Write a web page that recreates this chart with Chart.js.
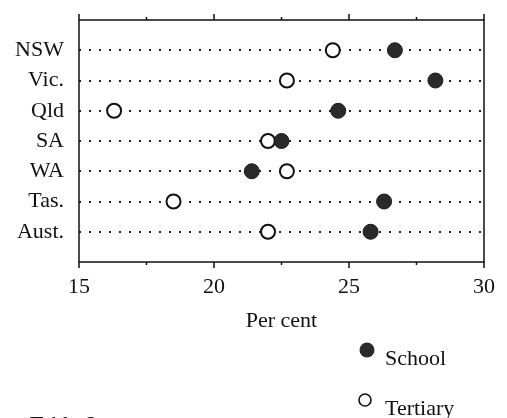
<!DOCTYPE html>
<html>
<head>
<meta charset="utf-8">
<script src="https://cdn.jsdelivr.net/npm/chart.js@4"></script>
<style>
  html, body { margin: 0; padding: 0; background: #fff; }
  #wrap { width: 507px; height: 418px; position: relative; }
</style>
</head>
<body>
<div id="wrap"><canvas id="chart"></canvas></div>
<script>
const states = ["NSW", "Vic.", "Qld", "SA", "WA", "Tas.", "Aust."];
const school = [26.7, 28.2, 24.6, 22.5, 21.4, 26.3, 25.8];
const tertiary = [24.4, 22.7, 16.3, 22.0, 22.7, 18.5, 22.0];
const xTicks = [15, 20, 25, 30];
const xMinorTicks = [17.5, 22.5, 27.5];

const ink = "#111";
const serif = "'Liberation Serif', 'DejaVu Serif', serif";

const ctx = document.getElementById("chart");

// box around the plot, ticks top and bottom, legend and source note
const framePlugin = {
  id: "frame",
  afterDraw(chart) {
    const c = chart.ctx;
    const area = chart.chartArea;
    const x = chart.scales.x;
    c.save();
    c.strokeStyle = ink;
    c.lineWidth = 1.5;
    c.strokeRect(area.left, area.top, area.right - area.left, area.bottom - area.top);
    c.beginPath();
    xTicks.forEach((v) => {
      const px = x.getPixelForValue(v);
      c.moveTo(px, area.top); c.lineTo(px, area.top - 6);
      c.moveTo(px, area.bottom); c.lineTo(px, area.bottom + 6);
    });
    xMinorTicks.forEach((v) => {
      const px = x.getPixelForValue(v);
      c.moveTo(px, area.top); c.lineTo(px, area.top - 3);
      c.moveTo(px, area.bottom); c.lineTo(px, area.bottom + 3);
    });
    c.stroke();

    // legend
    c.fillStyle = "#2a2a2a";
    c.beginPath(); c.arc(367, 350, 7.5, 0, Math.PI * 2); c.fill();
    c.fillStyle = "#fff";
    c.lineWidth = 1.6;
    c.beginPath(); c.arc(365, 400, 6, 0, Math.PI * 2); c.fill(); c.stroke();
    c.fillStyle = ink;
    c.font = "22px " + serif;
    c.textBaseline = "alphabetic";
    c.textAlign = "left";
    c.fillText("School", 385, 365);
    c.fillText("Tertiary", 385, 415);

    // source note, cut off at the bottom edge
    const pre = "Source: ";
    c.fillText(pre + "Table 6", 30 - c.measureText(pre).width, 431);
    c.restore();
  },
};

new Chart(ctx, {
  type: "scatter",
  data: {
    datasets: [
      {
        label: "School",
        data: school.map((v, i) => ({ x: v, y: i + 1 })),
        pointRadius: 7.5,
        pointHoverRadius: 7.5,
        backgroundColor: "#2a2a2a",
        borderColor: "#1a1a1a",
        borderWidth: 1,
      },
      {
        label: "Tertiary",
        data: tertiary.map((v, i) => ({ x: v, y: i + 1 })),
        pointRadius: 7,
        pointHoverRadius: 7,
        backgroundColor: "#fff",
        borderColor: ink,
        borderWidth: 2,
      },
    ],
  },
  options: {
    responsive: true,
    maintainAspectRatio: false,
    animation: false,
    layout: { padding: { left: 0, right: 21, top: 20, bottom: 84 } },
    plugins: {
      legend: { display: false },
      tooltip: { enabled: false },
    },
    scales: {
      x: {
        type: "linear",
        min: 15,
        max: 30,
        afterBuildTicks: (scale) => {
          scale.ticks = xTicks.map((v) => ({ value: v }));
        },
        afterFit: (scale) => {
          scale.height = 72;
        },
        ticks: {
          color: ink,
          font: { family: serif, size: 22 },
          padding: 12,
          maxRotation: 0,
        },
        grid: { display: false, drawTicks: false },
        border: { display: false },
        title: {
          display: true,
          text: "Per cent",
          color: ink,
          font: { family: serif, size: 22 },
          padding: { top: 6, bottom: 0 },
        },
      },
      y: {
        type: "linear",
        min: 0,
        max: 8,
        reverse: true,
        afterFit: (scale) => {
          scale.width = 79;
          scale.paddingTop = 0;
          scale.paddingBottom = 0;
        },
        ticks: {
          stepSize: 1,
          autoSkip: false,
          color: ink,
          font: { family: serif, size: 22 },
          padding: 15,
          callback: (v) => states[v - 1] || "",
        },
        grid: {
          drawTicks: false,
          lineWidth: 2,
          color: (c) => (c.tick && c.tick.value >= 1 && c.tick.value <= states.length ? "#222" : "transparent"),
        },
        border: { display: false, dash: [2, 8] },
      },
    },
  },
  plugins: [framePlugin],
});
</script>
</body>
</html>
